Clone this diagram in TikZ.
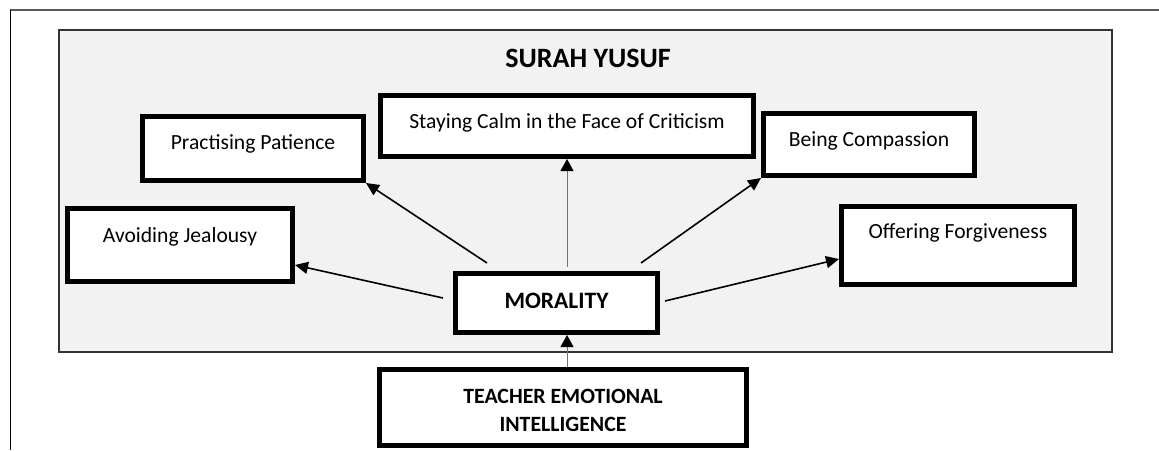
\documentclass[tikz,border=0pt]{standalone}
\usepackage{fontspec}
\setmainfont{Carlito}
\usetikzlibrary{arrows.meta}
\definecolor{panel}{HTML}{F2F2F2}
\definecolor{frame}{HTML}{595959}
\begin{document}
\begin{tikzpicture}[x=1pt,y=-1pt,
  box/.style={draw=black, line width=5pt, fill=white, inner sep=0pt},
  lbl/.style={font=\fontsize{21.6}{28}\selectfont, inner sep=0pt, anchor=base},
  blbl/.style={font=\bfseries\fontsize{21.8}{28}\selectfont, inner sep=0pt, align=center},
  arr/.style={line width=1.6pt, draw=black, -{Triangle[length=13pt,width=12pt]}},
  thinarr/.style={line width=1pt, draw=black!55, -{Triangle[length=12pt,width=13pt,color=black]}}]
\useasboundingbox (0,0) rectangle (1159,450);
% page frame
\draw[line width=1.5pt, draw=frame] (10,10) -- (1159,10);
\draw[line width=1pt, draw=black] (10,10) -- (10,450);
% panel
\draw[fill=panel, line width=1.5pt, draw=black!80] (59,30) rectangle (1112,352);
\node[font=\bfseries\fontsize{28}{32}\selectfont, inner sep=0pt, anchor=base] (title) at (588,67) {SURAH YUSUF};
% boxes
\node[box, minimum width=221pt, minimum height=64pt] (ppat) at (253,148.5) {};
\node[box, minimum width=373pt, minimum height=61pt] (scalm) at (567,126) {};
\node[box, minimum width=211pt, minimum height=62pt] (bcomp) at (869,144.5) {};
\node[box, minimum width=233pt, minimum height=78pt] (offer) at (958,245.5) {};
\node[box, minimum width=225pt, minimum height=73pt] (avoid) at (180,245) {};
\node[box, minimum width=202pt, minimum height=59pt] (moral) at (556.5,303) {};
\node[box, minimum width=367pt, minimum height=76pt] (teach) at (563,407.5) {};
% texts
\node[lbl] (ppatT) at ([yshift=-0.5pt]ppat.center) {Practising Patience};
\node[lbl] (scalmT) at ([yshift=-2pt]scalm.center) {Staying Calm in the Face of Criticism};
\node[lbl] (bcompT) at ([yshift=-1.5pt]bcomp.center) {Being Compassion};
\node[lbl] (offerT) at ([yshift=7.5pt]offer.center) {Offering Forgiveness};
\node[lbl] (avoidT) at ([yshift=3pt]avoid.center) {Avoiding Jealousy};
\node[blbl, font=\bfseries\fontsize{23.5}{28}\selectfont, anchor=base] (moralT) at ([yshift=-5pt]moral.center) {MORALITY};
\node[blbl] (teachT) at ([yshift=-3pt]teach.center) {TEACHER EMOTIONAL\\INTELLIGENCE};
% connectors
\coordinate (mtop) at (moral.north -| scalm.south);
\coordinate (mbot) at (moral.south -| scalm.south);
\coordinate (ttop) at (teach.north -| scalm.south);
\draw[arr] ([shift={(34,-8)}]moral.north west) -- (ppat.south east);
\draw[thinarr] ([yshift=4pt]mtop) -- (scalm.south);
\draw[arr] ([shift={(-19,-8)}]moral.north east) -- (bcomp.south west);
\draw[arr] ([shift={(-10,-5)}]moral.west) -- ([yshift=-20pt]avoid.east);
\draw[arr] ([shift={(5,-2)}]moral.east) -- ([yshift=-13.5pt]offer.west);
\draw[thinarr] (ttop) -- (mbot);
\end{tikzpicture}
\end{document}
